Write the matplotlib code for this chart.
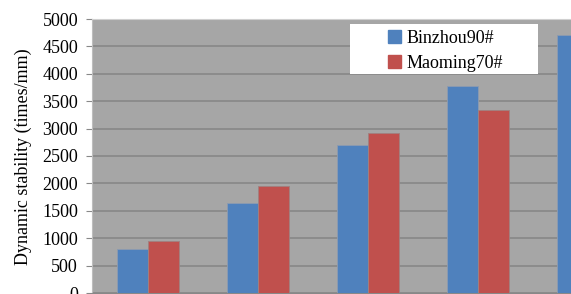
import matplotlib
matplotlib.use("Agg")
import matplotlib.pyplot as plt
import numpy as np
from matplotlib.patches import Rectangle

# Data (5th Maoming70# bar is cut off in the reference)
categories = ["1", "2", "3", "4", "5"]
binzhou90 = [800, 1650, 2700, 3770, 4700]
maoming70 = [940, 1950, 2920, 3340, np.nan]
series_names = ["Binzhou90#", "Maoming70#"]
yticks = [0, 500, 1000, 1500, 2000, 2500, 3000, 3500, 4000, 4500, 5000]

plt.rcParams['font.family'] = ['Liberation Serif', 'DejaVu Serif']

W, H = 571, 294
fig = plt.figure(figsize=(W / 100, H / 100), dpi=100)

# axes in pixel terms: left 92, top 19, bottom 293; group spacing 110 px
left_px, top_px, bot_px = 92, 19, 293
x0, x1 = -0.51, 4.5
width_px = (x1 - x0) * 110
ax = fig.add_axes([left_px / W, (H - bot_px) / H, width_px / W, (bot_px - top_px) / H])
ax.set_facecolor('#A6A6A6')

x = np.arange(len(categories))
bw = 0.285
ax.bar(x - bw / 2, binzhou90, bw, color='#4F81BD', edgecolor='#8C9BB0', linewidth=0.6, zorder=3)
ax.bar(x + bw / 2, maoming70, bw, color='#C0504D', edgecolor='#A08080', linewidth=0.6, zorder=3)

ax.set_xlim(x0, x1)
ax.set_ylim(0, 5000)
ax.set_yticks(yticks)
ax.set_yticklabels([str(t) for t in yticks], fontsize=13)
ax.set_xticks(x)
ax.set_xticklabels(categories, fontsize=13)
ax.tick_params(axis='x', labelbottom=False, length=4, color='#888888')
ax.yaxis.grid(True, color='#878787', linewidth=1.2, zorder=1)
ax.set_axisbelow(True)
ax.tick_params(axis='y', length=4, width=0.8, color='#888888', pad=6)
for s in ['top', 'right']:
    ax.spines[s].set_color('#D0D0D0')
ax.spines['left'].set_color('#BDBDBD')
ax.spines['bottom'].set_color('#888888')

fig.text(23 / W, 1 - 157 / H, "Dynamic stability (times/mm)", rotation=90,
         fontsize=13, ha='center', va='center')

# legend box (white, manually sized like the reference)
fig.patches.append(Rectangle((350 / W, 1 - 74 / H), 188 / W, 50 / H,
                             transform=fig.transFigure, facecolor='white',
                             edgecolor='none', zorder=5))
handles = [Rectangle((0, 0), 1, 1, color='#4F81BD'), Rectangle((0, 0), 1, 1, color='#C0504D')]
leg = fig.legend(handles, series_names, loc='center left',
                 bbox_to_anchor=(388 / W, 1 - 51 / H), frameon=False, fontsize=13,
                 handlelength=0.7, handleheight=0.7, handletextpad=0.35,
                 labelspacing=0.45, borderpad=0, borderaxespad=0)
leg.set_zorder(6)

fig.savefig("out.png", dpi=100)
